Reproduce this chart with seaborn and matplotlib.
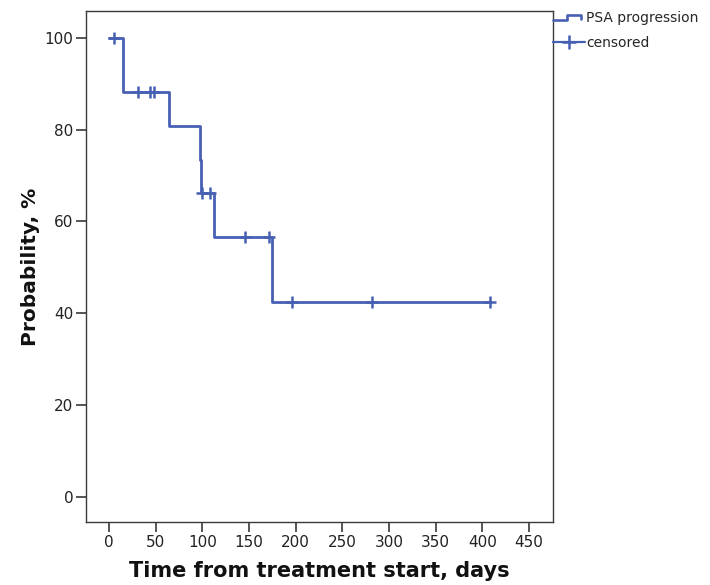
import matplotlib
matplotlib.use("Agg")
import matplotlib.pyplot as plt
import seaborn as sns
import pandas as pd
from matplotlib.lines import Line2D
from matplotlib.legend_handler import HandlerBase

# ---- data ----
step_times = [0, 15, 64, 98, 99, 112, 175, 408]
step_surv = [100, 88.2, 80.9, 73.5, 66.2, 56.7, 42.5, 42.5]
censor_times = [5, 31, 44, 48, 100, 108, 146, 171, 196, 282, 408]
censor_surv = [100, 88.2, 88.2, 88.2, 66.2, 66.2, 56.7, 56.7, 42.5, 42.5, 42.5]
x_ticks = [0, 50, 100, 150, 200, 250, 300, 350, 400, 450]
y_ticks = [0, 20, 40, 60, 80, 100]
legend_labels = ["PSA progression", "censored"]
x_label = "Time from treatment start, days"
y_label = "Probability, %"

sns.set_theme(style="white")
plt.rcParams['font.family'] = ['DejaVu Sans']

BLUE = "#4760b3"
EDGE = "#3a3a3a"

fig = plt.figure(figsize=(7.1, 5.85), dpi=100)
ax = fig.add_axes([86/710, 1 - 522.3/585, (553.3 - 86)/710, (522.3 - 11)/585])

curve = pd.DataFrame({"t": step_times, "s": step_surv})
cens = pd.DataFrame({"t": censor_times, "s": censor_surv})

sns.lineplot(data=curve, x="t", y="s", ax=ax, drawstyle="steps-post",
             color=BLUE, linewidth=2.0, estimator=None, sort=False)
sns.scatterplot(data=cens, x="t", y="s", ax=ax, marker="+", s=70,
                color=BLUE, linewidth=1.8, zorder=3)

ax.set_xlim(-24.6, 476)
ax.set_ylim(-5.6, 105.9)
ax.set_xticks(x_ticks)
ax.set_yticks(y_ticks)
ax.tick_params(axis="both", which="major", direction="out", length=7,
               width=1.2, color=EDGE, labelsize=11, labelcolor="#222222",
               pad=2, bottom=True, left=True)
for sp in ax.spines.values():
    sp.set_color(EDGE)
    sp.set_linewidth(1.0)
    sp.set_visible(True)

ax.set_xlabel(x_label, fontsize=15, fontweight="bold", color="#111111", labelpad=8)
ax.set_ylabel(y_label, fontsize=14.5, fontweight="bold", color="#111111", labelpad=3)


class StepHandler(HandlerBase):
    def create_artists(self, legend, orig_handle, xdescent, ydescent,
                       width, height, fontsize, trans):
        x0 = -xdescent
        y0 = -ydescent
        lo = y0 + height * 0.2
        hi = y0 + height * 0.75
        xs = [x0, x0 + 0.45 * width, x0 + 0.45 * width, x0 + 0.88 * width, x0 + 0.88 * width]
        ys = [lo, lo, hi, hi, lo + 0.1 * height]
        ln = Line2D(xs, ys, color=BLUE, linewidth=1.9, transform=trans)
        return [ln]


h1 = Line2D([0], [0], color=BLUE)
h2 = Line2D([0], [0], color=BLUE, linewidth=1.6, marker="+", markersize=10,
            markeredgewidth=1.8)
leg = fig.legend([h1, h2], legend_labels, handler_map={h1: StepHandler()},
                 loc="upper left", bbox_to_anchor=(553/710, 1 - 11/585),
                 frameon=False, fontsize=10, handlelength=2.3,
                 handletextpad=0.1, labelspacing=0.8, borderaxespad=0,
                 borderpad=0)

fig.savefig("out.png", dpi=100)
